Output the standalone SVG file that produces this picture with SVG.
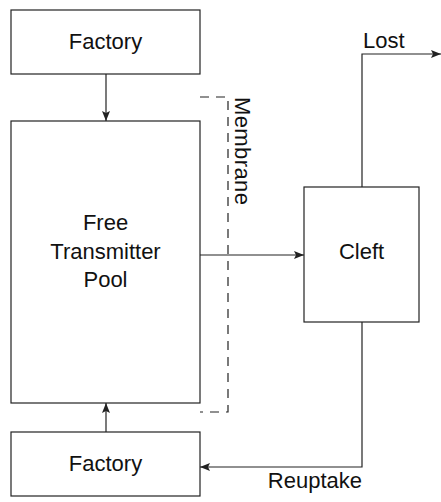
<svg xmlns="http://www.w3.org/2000/svg" width="441" height="502" viewBox="0 0 441 502">
  <style>
    .box { fill: #ffffff; stroke: #222222; stroke-width: 1.2; }
    .wire { fill: none; stroke: #222222; stroke-width: 1.2; }
    .dash { fill: none; stroke: #222222; stroke-width: 1.2; stroke-dasharray: 9 7; }
    .lbl { font-family: "Liberation Sans", Arial, sans-serif; font-size: 22px; fill: #111111; }
  </style>
  <defs>
    <marker id="tip" viewBox="0 0 10 8" refX="10" refY="4" markerWidth="10" markerHeight="8" markerUnits="userSpaceOnUse" orient="auto">
      <path d="M0,0 L10,4 L0,8 L2,4 Z" fill="#222222"/>
    </marker>
  </defs>

  <rect width="441" height="502" fill="#ffffff"/>

  <g id="connectors">
    <line class="wire" x1="106" y1="74" x2="106" y2="121" marker-end="url(#tip)"/>
    <line class="wire" x1="106" y1="432" x2="106" y2="403" marker-end="url(#tip)"/>
    <line class="wire" x1="200" y1="255" x2="304" y2="255" marker-end="url(#tip)"/>
    <polyline class="wire" points="362,187 362,54 441,54" marker-end="url(#tip)"/>
    <polyline class="wire" points="362,322 362,467 200,467" marker-end="url(#tip)"/>
  </g>

  <g id="membrane">
    <polyline class="dash" points="200,97 228,97 228,412 200,412"/>
    <text class="lbl" transform="translate(235,97) rotate(90)" textLength="108" lengthAdjust="spacing">Membrane</text>
  </g>

  <g id="factory-top">
    <rect class="box" x="11" y="10" width="189" height="64"/>
    <text class="lbl" x="105.5" y="49" text-anchor="middle">Factory</text>
  </g>

  <g id="pool">
    <rect class="box" x="11" y="121" width="189" height="282"/>
    <text class="lbl" x="105.5" y="230" text-anchor="middle">Free</text>
    <text class="lbl" x="105.5" y="259" text-anchor="middle">Transmitter</text>
    <text class="lbl" x="105.5" y="287" text-anchor="middle">Pool</text>
  </g>

  <g id="factory-bottom">
    <rect class="box" x="11" y="432" width="189" height="64"/>
    <text class="lbl" x="105.5" y="471" text-anchor="middle">Factory</text>
  </g>

  <g id="cleft">
    <rect class="box" x="304" y="187" width="115" height="135"/>
    <text class="lbl" x="361.5" y="259" text-anchor="middle">Cleft</text>
  </g>

  <g id="edge-labels">
    <text class="lbl" x="363" y="48">Lost</text>
    <text class="lbl" x="362" y="488" text-anchor="end">Reuptake</text>
  </g>
</svg>
